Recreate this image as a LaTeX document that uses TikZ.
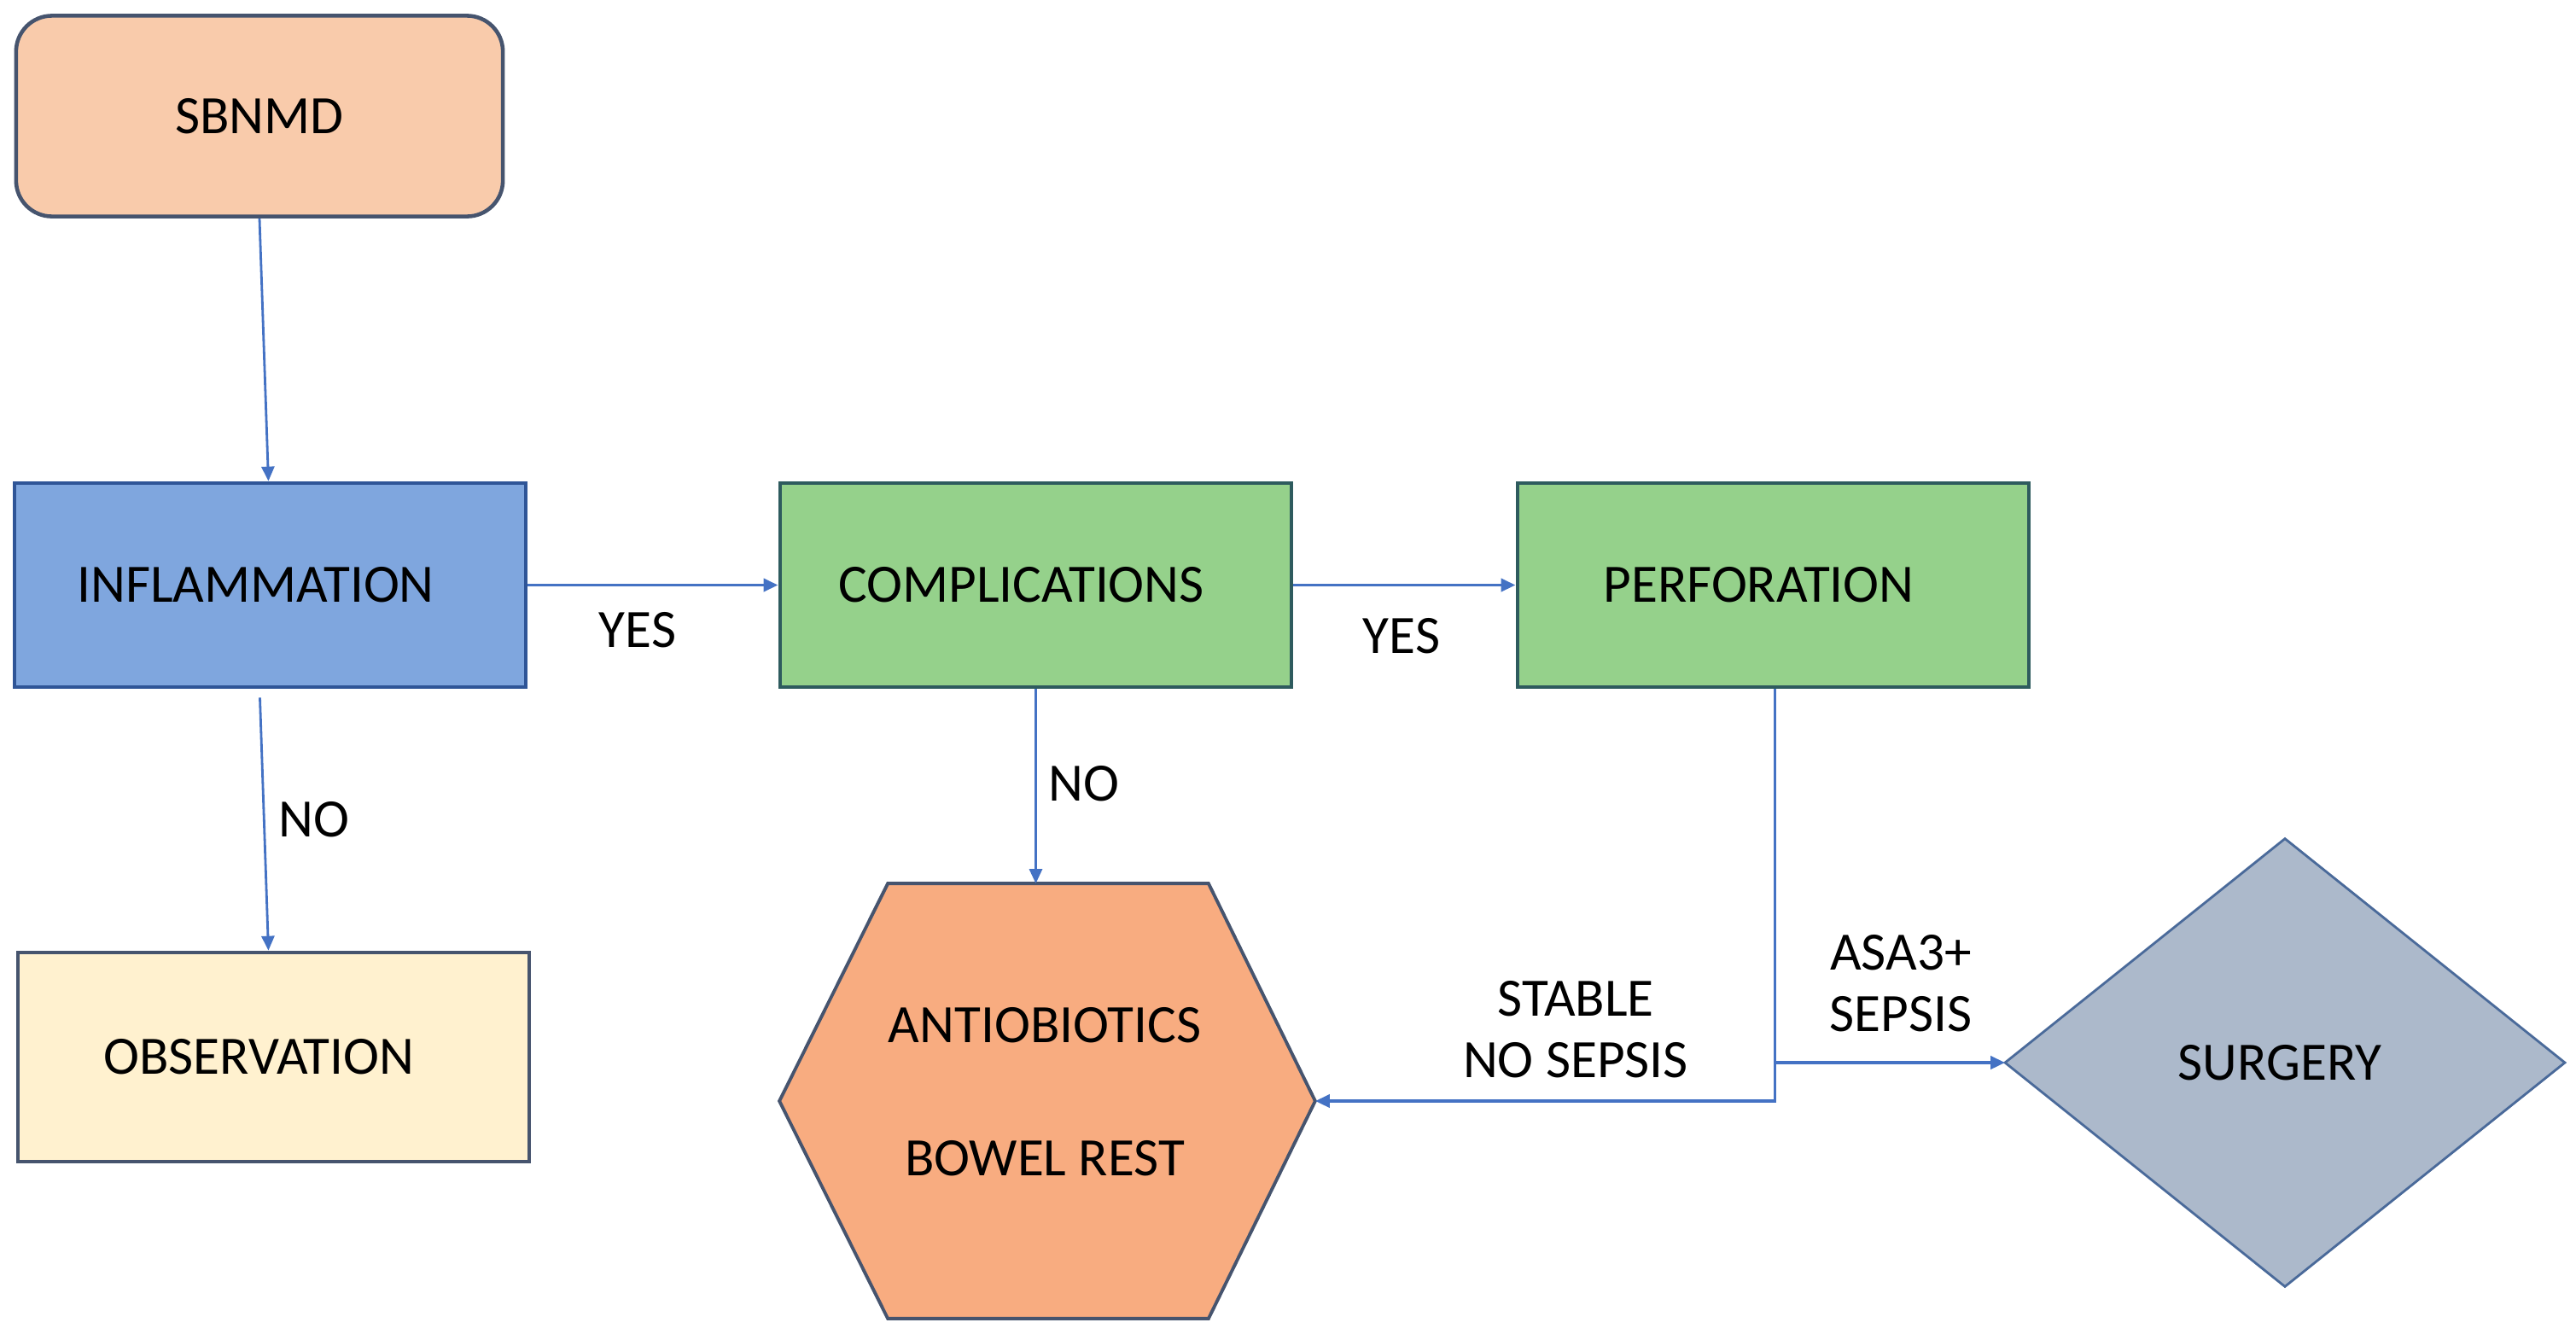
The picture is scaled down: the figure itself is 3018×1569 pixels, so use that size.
\documentclass[tikz,border=0pt]{standalone}
\usepackage{fontspec}
\setmainfont{Carlito}
\usetikzlibrary{arrows.meta,calc}
\definecolor{peach}{HTML}{F9CBAB}
\definecolor{slateb}{HTML}{46546E}
\definecolor{bluefill}{HTML}{7FA6DE}
\definecolor{blueedge}{HTML}{2F5597}
\definecolor{greenfill}{HTML}{95D18B}
\definecolor{greenedge}{HTML}{2E5B5E}
\definecolor{obsfill}{HTML}{FFF1CF}
\definecolor{hexfill}{HTML}{F8AC80}
\definecolor{diafill}{HTML}{ACB9CB}
\definecolor{diaedge}{HTML}{4A6A9A}
\definecolor{arrowc}{HTML}{4472C4}
\begin{document}
\begin{tikzpicture}[x=0.01cm,y=-0.01cm,
  txt/.style={font=\fontsize{18}{22}\selectfont, text=black},
  box/.style={draw, line width=1.3pt, minimum width=5.99cm, minimum height=2.39cm, inner sep=0pt},
  lbl/.style={txt, align=center, inner sep=0pt},
  conn/.style={draw=arrowc, line width=0.8pt, -{Triangle[length=0.17cm,width=0.15cm]}},
  conn2/.style={draw=arrowc, line width=1.1pt, -{Triangle[length=0.17cm,width=0.15cm]}}]
\useasboundingbox (0,0) rectangle (3018,1569);
\fill[white] (0,0) rectangle (3018,1569);

% boxes
\node[box, draw=slateb, fill=peach, rounded corners=0.42cm, minimum width=5.70cm, minimum height=2.35cm,
  label={[txt]center:SBNMD}] (sbnmd) at (304,136) {};
\node[box, draw=blueedge, fill=bluefill,
  label={[txt, xshift=-0.17cm]center:INFLAMMATION}] (infl) at (316.5,685.5) {};
\node[box, draw=greenedge, fill=greenfill,
  label={[txt, xshift=-0.17cm]center:COMPLICATIONS}] (comp) at (1213.5,685.5) {};
\node[box, draw=greenedge, fill=greenfill,
  label={[txt, xshift=-0.17cm]center:PERFORATION}] (perf) at (2077.5,685.5) {};
\node[box, draw=slateb, fill=obsfill, minimum height=2.45cm,
  label={[txt, xshift=-0.17cm]center:OBSERVATION}] (obs) at (320.5,1238.5) {};

% hexagon
\node[minimum width=6.26cm, minimum height=5.08cm, inner sep=0pt] (hex) at (1227,1290) {};
\draw[draw=slateb, fill=hexfill, line width=1.1pt]
  ($(hex.north west)+(127,0)$) -- ($(hex.north east)+(-125,0)$) -- (hex.east)
  -- ($(hex.south east)+(-125,0)$) -- ($(hex.south west)+(127,0)$) -- (hex.west) -- cycle;
\node[lbl] (hexa) at (1224,1201) {ANTIOBIOTICS};
\node[lbl] (hexb) at (1224,1357) {BOWEL REST};

% diamond
\node[minimum width=6.54cm, minimum height=5.23cm, inner sep=0pt] (surg) at (2677,1245) {};
\draw[draw=diaedge, fill=diafill, line width=0.8pt]
  (surg.north) -- (surg.east) -- (surg.south) -- (surg.west) -- cycle;
\node[lbl] (surgt) at (2671,1245) {SURGERY};

% connectors
\draw[conn] (sbnmd.south) -- ($(infl.north)+(-2,0)$);
\draw[conn] ($(infl.south)+(-12,10)$) -- ($(obs.north)+(-6,0)$);
\draw[conn2] (infl.east) -- (comp.west);
\draw[conn2] (comp.east) -- (perf.west);
\draw[conn] (comp.south) -- (comp.south |- hex.north);
\coordinate (pj) at ($(perf.south)+(2,0)$);
\coordinate (pb) at (pj |- hex.east);
\coordinate (ps) at (pj |- surg.west);
\draw[conn2] (pj) -- (pb) -- (hex.east);
\draw[conn2] (ps) -- (surg.west);

% labels
\node[lbl] (yes1) at (747,738) {YES};
\node[lbl] (yes2) at (1642,745) {YES};
\node[lbl] (no1) at (368,960) {NO};
\node[lbl] (no2) at (1270,918) {NO};
\node[lbl] (stable) at (1846,1206) {STABLE\\[-0.05cm]NO SEPSIS};
\node[lbl] (asa) at (2227,1152) {ASA3+\\[-0.05cm]SEPSIS};
\end{tikzpicture}
\end{document}
